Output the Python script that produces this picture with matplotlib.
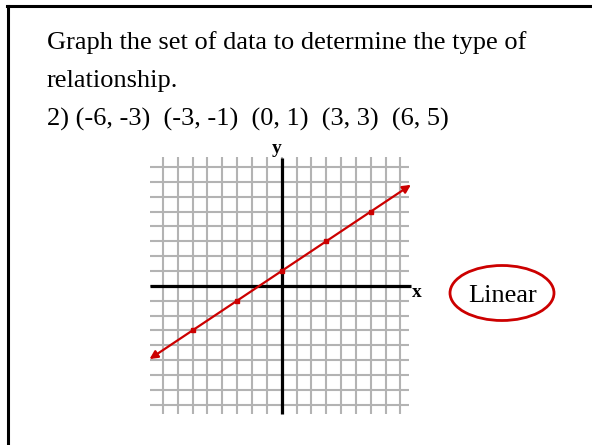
import numpy as np
import matplotlib
matplotlib.use("Agg")
import matplotlib.pyplot as plt
from matplotlib.patches import Ellipse, FancyArrowPatch
from matplotlib.lines import Line2D

# data set from problem 2
x_points = [-6, -3, 0, 3, 6]
y_points = [-3, -1, 1, 3, 5]
grid_ticks = np.arange(-8, 9)
question = ["Graph the set of data to determine the type of", "relationship."]
answer = "Linear"

W, H = 592, 445
RED = "#cc0000"
SERIF = ["Liberation Serif", "DejaVu Serif"]


def px(x, y):
    # pixel position (from top-left) -> figure fraction
    return x / W, 1 - y / H


fig = plt.figure(figsize=(W / 100, H / 100), dpi=100)

# page frame (left and top edges)
fig.add_artist(Line2D([px(8, 0)[0], px(8, 0)[0]], [px(0, 6)[1], 0], color="black", lw=2.2))
fig.add_artist(Line2D([px(7, 0)[0], 1], [px(0, 6)[1], px(0, 6)[1]], color="black", lw=2.2))

# question text
for i, line in enumerate(question):
    x, y = px(47, 49 + 38.5 * i)
    fig.text(x, y, line, family=SERIF, fontsize=19, va="baseline", ha="left")
pairs = "  ".join("({}, {})".format(a, b) for a, b in zip(x_points, y_points))
x, y = px(47, 126)
fig.text(x, y, "2) " + pairs, family=SERIF, fontsize=19, va="baseline", ha="left")

# coordinate grid, one unit = 14.85 px, origin at (281.7, 285.8)
unit = 14.85
ox, oy = 281.7, 285.8
lo, hi = -10, 10
left = (ox + lo * unit) / W
bottom = 1 - (oy - lo * unit) / H
ax = fig.add_axes([left, bottom, (hi - lo) * unit / W, (hi - lo) * unit / H])
ax.set_xlim(lo, hi)
ax.set_ylim(lo, hi)
ax.axis("off")

grid_color = "#b3b3b3"
ax.hlines(grid_ticks, -8.9, 8.57, color=grid_color, lw=1.5, zorder=1)
ax.vlines(grid_ticks, -8.65, 8.7, color=grid_color, lw=1.5, zorder=1)
ax.hlines(0, -8.9, 8.7, color="black", lw=2.3, zorder=2)
ax.vlines(0, -8.65, 8.6, color="black", lw=2.3, zorder=2)
ax.text(8.8, -0.75, "x", family=SERIF, fontsize=14, fontweight="bold", va="baseline", ha="left")
ax.text(-0.35, 8.95, "y", family=SERIF, fontsize=14, fontweight="bold", va="baseline", ha="center")

# best-fit line through the points, extended to the grid edges with arrows
slope, intercept = np.polyfit(x_points, y_points, 1)
x0, x1 = -8.9, 8.7
arrow = FancyArrowPatch((x0, slope * x0 + intercept), (x1, slope * x1 + intercept),
                        arrowstyle="<|-|>", mutation_scale=12, color=RED, lw=1.6,
                        shrinkA=0, shrinkB=0, zorder=3)
ax.add_patch(arrow)
ax.plot(x_points, y_points, "s", color=RED, ms=3.5, zorder=4)

# answer bubble
cx, cy = px(502, 293)
fig.add_artist(Ellipse((cx, cy), 104 / W, 55 / H, transform=fig.transFigure,
                       fill=False, edgecolor=RED, lw=2))
x, y = px(503, 302)
fig.text(x, y, answer, family=SERIF, fontsize=19, va="baseline", ha="center")

fig.savefig("out.png", dpi=100)
